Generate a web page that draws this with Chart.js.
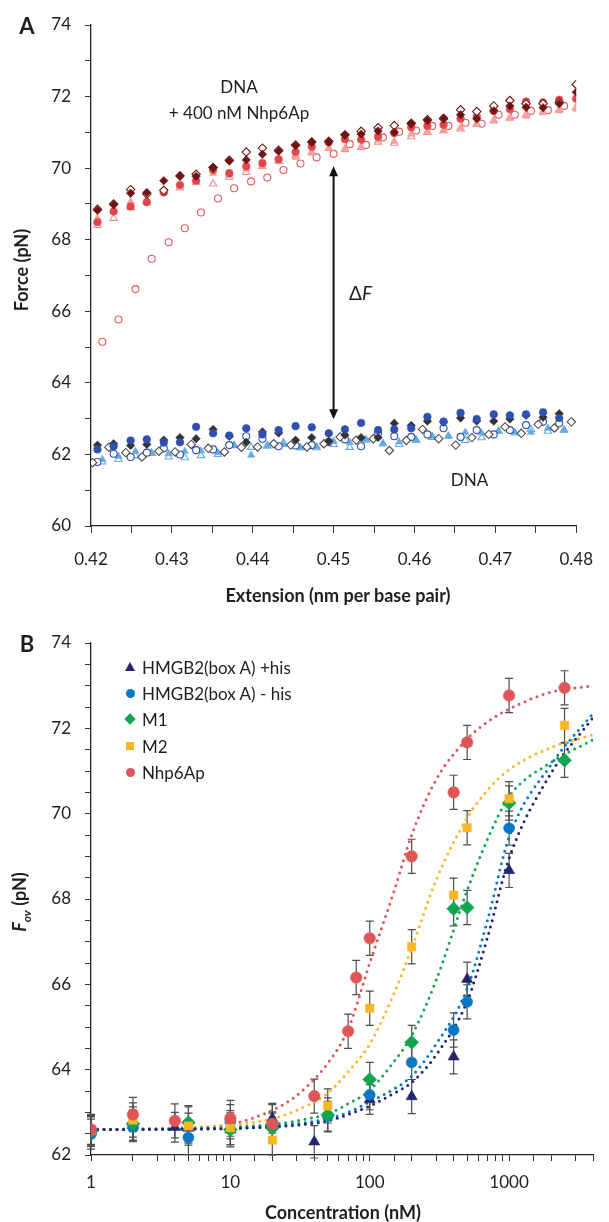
<!DOCTYPE html>
<html>
<head>
<meta charset="utf-8">
<script src="https://cdn.jsdelivr.net/npm/chart.js@4.4.1/dist/chart.umd.min.js"></script>
<style>
  body { margin: 0; background: #fff; }
  #page { position: relative; width: 609px; height: 1222px; font-family: Lato, "Open Sans", sans-serif; color: #1e1e1e; }
  canvas { position: absolute; left: 0; }
  .lbl { position: absolute; transform: translate(-50%, -50%); white-space: nowrap; }
  .panel { font-weight: bold; font-size: 22px; }
  .title { font-weight: bold; font-size: 18px; }
  .ytitle { transform: translate(-50%, -50%) rotate(-90deg); }
  .row { position: absolute; left: 142px; transform: translateY(-50%); white-space: nowrap; font-size: 17px; }
  .mk { position: absolute; }
</style>
</head>
<body>
<div id="page">
  <canvas id="chartA" width="609" height="610" style="top:0"></canvas>
  <canvas id="chartB" width="609" height="612" style="top:610px"></canvas>

  <div class="lbl panel" style="left:27px;top:25px">A</div>
  <div class="lbl panel" style="left:27px;top:643px">B</div>
  <div class="lbl title ytitle" style="left:21px;top:270px">Force (pN)</div>
  <div class="lbl title" style="left:338px;top:595px">Extension (nm per base pair)</div>
  <div class="lbl title ytitle" style="left:21px;top:902px"><i>F<sub style="font-size:12px">ov</sub></i> (pN)</div>
  <div class="lbl title" style="left:343px;top:1212px">Concentration (nM)</div>
  <div id="legend"></div>
</div>

<script>
// ---------------- Panel A: force vs extension ----------------
const extA = [0.4208, 0.4228, 0.4249, 0.4269, 0.4290, 0.4310, 0.4330, 0.4351, 0.4371, 0.4392,
              0.4412, 0.4432, 0.4453, 0.4473, 0.4494, 0.4514, 0.4534, 0.4555, 0.4575, 0.4596,
              0.4616, 0.4636, 0.4657, 0.4677, 0.4698, 0.4718, 0.4738, 0.4759, 0.4779, 0.4800];
const extB = [0.4202, 0.4222, 0.4243, 0.4263, 0.4284, 0.4304, 0.4324, 0.4345, 0.4365, 0.4386,
              0.4406, 0.4426, 0.4447, 0.4467, 0.4488, 0.4508, 0.4528, 0.4549, 0.4569, 0.4590,
              0.4610, 0.4630, 0.4651, 0.4671, 0.4692, 0.4712, 0.4732, 0.4753, 0.4773, 0.4794];
const extC = [0.4214, 0.4234, 0.4255, 0.4275, 0.4296, 0.4316, 0.4336, 0.4357, 0.4377, 0.4398,
              0.4418, 0.4438, 0.4459, 0.4479, 0.4500, 0.4520, 0.4540, 0.4561, 0.4581, 0.4602,
              0.4622, 0.4642, 0.4663, 0.4683, 0.4704, 0.4724, 0.4744, 0.4765, 0.4785, 0.4806];

// DNA + 400 nM Nhp6Ap
const nhpDiamond = [68.82, 68.98, 69.30, 69.32, 69.65, 69.79, 69.77, 70.02, 70.20, 70.23, 70.39, 70.47, 70.63, 70.73, 70.73,
                    70.93, 70.95, 71.04, 71.00, 71.26, 71.33, 71.40, 71.49, 71.38, 71.60, 71.74, 71.70, 71.69, 71.80, 72.12];
const nhpOpenDiamond = [68.85, 69.00, 69.40, 69.28, 69.38, 69.78, 69.83, 70.02, 70.22, 70.45, 70.56, 70.50, 70.65, 70.73, 70.75,
                        70.93, 71.03, 71.13, 71.19, 71.25, 71.35, 71.38, 71.63, 71.58, 71.74, 71.89, 71.80, 71.80, 71.84, 72.34];
const nhpCircle = [68.49, 68.79, 68.93, 69.05, 69.32, 69.53, 69.65, 69.95, 69.86, 70.05, 70.14, 70.25, 70.45, 70.60, 70.72,
                   70.81, 70.80, 70.88, 70.98, 71.14, 71.18, 71.21, 71.38, 71.44, 71.60, 71.65, 71.86, 71.84, 71.91, 71.94];
const nhpTriangle = [68.60, 68.85, 69.07, 69.10, 69.35, 69.50, 69.60, 69.85, 69.80, 69.98, 70.05, 70.18, 70.30, 70.42, 70.55,
                     70.55, 70.60, 70.78, 70.75, 70.95, 71.03, 71.05, 71.13, 71.25, 71.32, 71.42, 71.45, 71.55, 71.60, 71.65];
const nhpOpenTriangle = [68.40, 68.60, 68.90, 69.05, 69.35, 69.45, 69.60, 69.56, 69.75, 69.88, 70.05, 70.20, 70.35, 70.45, 70.55,
                         70.52, 70.58, 70.73, 70.70, 70.88, 71.00, 71.05, 71.10, 71.23, 71.33, 71.40, 71.49, 71.57, 71.63, 71.70];
const nhpOpenCircle = [65.15, 65.77, 66.62, 67.47, 67.93, 68.32, 68.76, 69.15, 69.44, 69.63, 69.74, 69.95, 70.13, 70.30, 70.40,
                       70.67, 70.65, 70.86, 71.02, 71.05, 71.18, 71.18, 71.27, 71.24, 71.49, 71.49, 71.60, 71.62, 71.74, null];

// DNA alone
const dnaCircle = [62.14, 62.23, 62.39, 62.42, 62.33, 62.34, 62.77, 62.59, 62.53, 62.73, 62.56, 62.68, 62.79, 62.76, 62.59,
                   62.70, 62.88, 62.68, 62.70, 62.73, 63.05, 62.92, 63.16, 62.99, 63.12, 63.09, 63.12, 63.18, 63.02, null];
const dnaDiamond = [62.26, 62.30, 62.25, 62.28, 62.40, 62.47, 62.44, 62.70, 62.51, 62.34, 62.63, 62.60, 62.40, 62.47, 62.37,
                    62.54, 62.47, 62.47, 62.87, 62.81, 62.93, 62.90, 63.02, 62.93, 62.93, 62.99, 63.09, 63.04, 63.14, null];
const dnaOpenDiamond = [61.77, 62.20, 62.05, 61.93, 62.09, 62.07, 62.28, 62.17, 62.07, 62.20, 62.21, 62.30, 62.26, 62.21, 62.30,
                        62.49, 62.40, 62.44, 62.11, 62.39, 62.70, 62.44, 62.26, 62.47, 62.56, 62.77, 62.59, 62.84, 62.74, 62.91];
const dnaOpenCircle = [61.79, 62.02, 61.93, 62.05, 62.17, 62.00, 62.12, 62.14, 62.26, 62.51, 62.44, 62.23, 62.25, 62.26, 62.35,
                       62.42, 62.23, 62.59, 62.51, 62.49, 62.56, 62.73, 62.49, 62.68, 62.56, 62.68, 62.82, 62.91, 62.87, null];
const dnaTriangle = [61.86, 61.95, 62.09, 62.05, 62.02, 62.09, 62.10, 62.05, 62.26, 61.98, 62.23, 62.28, 62.19, 62.22, 62.37,
                     62.33, 62.42, 62.30, 62.35, 62.40, 62.51, 62.51, 62.62, 62.60, 62.65, 62.62, 62.62, 62.73, 62.68, null];
const dnaOpenTriangle = [61.79, 61.86, 61.97, 62.03, 61.93, 61.91, 61.97, 62.00, 62.25, 62.20, 62.25, 62.33, 62.19, 62.19, 62.28,
                         62.20, 62.40, 62.30, 62.28, 62.40, 62.48, 62.51, 62.39, 62.47, 62.65, 62.60, 62.70, 62.65, 62.68, null];

// arrow and notes (data coordinates)
const arrowX = 0.45, arrowLow = 62.98, arrowHigh = 70.05;
const notesA = [
  { text: "DNA", x: 0.4383, y: 72.26 },
  { text: "+ 400 nM Nhp6Ap", x: 0.4383, y: 71.53 },
  { text: "DNA", x: 0.4668, y: 61.26 }
];
const deltaF = { x: 0.4535, y: 66.5 };

// ---------------- Panel B: Fov vs concentration ----------------
const legendNames = ["HMGB2(box A) +his", "HMGB2(box A) - his", "M1", "M2", "Nhp6Ap"];

const concHis = [1, 2, 4, 5, 10, 20, 40, 100, 200, 400, 500, 1000];
const fovHis = [62.55, 62.70, 62.65, 62.63, 62.59, 62.86, 62.31, 63.30, 63.37, 64.30, 66.12, 68.67];
const errHis = [0.35, 0.35, 0.35, 0.35, 0.35, 0.35, 0.38, 0.35, 0.4, 0.4, 0.4, 0.4];

const concNoHis = [1, 2, 5, 10, 20, 50, 100, 200, 400, 500, 1000];
const fovNoHis = [62.49, 62.66, 62.41, 62.78, 62.66, 62.91, 63.41, 64.17, 64.93, 65.59, 69.66];
const errNoHis = [0.35, 0.35, 0.4, 0.4, 0.35, 0.35, 0.35, 0.4, 0.4, 0.4, 0.4];

const concM1 = [1, 2, 5, 10, 20, 50, 100, 200, 400, 500, 1000, 2500];
const fovM1 = [62.55, 62.73, 62.76, 62.59, 62.63, 62.94, 63.77, 64.64, 67.77, 67.80, 70.25, 71.25];
const errM1 = [0.35, 0.4, 0.4, 0.4, 0.35, 0.4, 0.4, 0.4, 0.4, 0.4, 0.4, 0.4];

const concM2 = [1, 2, 5, 10, 20, 50, 100, 200, 400, 500, 1000, 2500];
const fovM2 = [62.58, 62.82, 62.68, 62.64, 62.35, 63.15, 65.44, 66.88, 68.09, 69.67, 70.35, 72.07];
const errM2 = [0.35, 0.4, 0.45, 0.4, 0.35, 0.4, 0.4, 0.4, 0.4, 0.4, 0.4, 0.4];

const concNhp = [1, 2, 4, 10, 20, 40, 70, 80, 100, 200, 400, 500, 1000, 2500];
const fovNhp = [62.60, 62.95, 62.80, 62.86, 62.73, 63.38, 64.90, 66.16, 67.08, 69.00, 70.50, 71.67, 72.77, 72.95];
const errNhp = [0.35, 0.4, 0.4, 0.42, 0.45, 0.4, 0.4, 0.4, 0.4, 0.4, 0.4, 0.4, 0.4, 0.4];

// fitted curves
const concFit = [1, 2, 5, 10, 20, 30, 50, 70, 100, 150, 200, 300, 500, 700, 1000, 2000, 4000];
const fitHis = [62.60, 62.60, 62.61, 62.62, 62.66, 62.70, 62.80, 62.95, 63.15, 63.45, 63.70, 64.35, 65.60, 67.10, 68.95, 70.95, 72.25];
const fitNoHis = [62.60, 62.60, 62.61, 62.62, 62.68, 62.73, 62.85, 63.00, 63.25, 63.55, 63.85, 64.60, 65.90, 67.50, 69.45, 71.15, 72.35];
const fitM1 = [62.60, 62.60, 62.62, 62.65, 62.72, 62.80, 62.97, 63.20, 63.52, 64.20, 64.80, 66.10, 68.20, 69.40, 70.40, 71.20, 71.73];
const fitM2 = [62.60, 62.61, 62.65, 62.70, 62.85, 63.05, 63.45, 63.95, 64.60, 65.80, 66.85, 68.45, 69.90, 70.55, 71.03, 71.55, 71.85];
const fitNhp = [62.60, 62.61, 62.64, 62.72, 63.05, 63.40, 64.15, 64.95, 66.50, 68.20, 69.50, 70.80, 71.75, 72.15, 72.45, 72.85, 73.00];

// ======================================
// helpers
// ======================================
Chart.defaults.font.family = "Lato, 'Open Sans', sans-serif";
Chart.defaults.font.size = 17;
Chart.defaults.color = "#1e1e1e";

function pts(xs, ys) {
  return xs.map((x, i) => ({ x: x, y: ys[i] })).filter(p => p.y !== null);
}

function marks(label, xs, ys, shape, color, open, r) {
  return {
    label: label,
    data: pts(xs, ys),
    pointStyle: shape,
    pointRadius: r,
    pointBackgroundColor: open ? "#ffffff" : color,
    pointBorderColor: color,
    pointBorderWidth: open ? 1.1 : 0.6,
    showLine: false
  };
}

const axisLine = { display: true, color: "#222", width: 1.3 };
const tickGrid = { display: true, drawOnChartArea: false, drawTicks: true, tickLength: 6, color: "#333", lineWidth: 1 };

// ======================================
// PANEL A
// ======================================
const annotate = {
  id: "annotate",
  afterDatasetsDraw(chart) {
    const { ctx, scales: { x, y } } = chart;
    const ax = x.getPixelForValue(arrowX);
    const yb = y.getPixelForValue(arrowLow);
    const yt = y.getPixelForValue(arrowHigh);
    ctx.save();
    ctx.strokeStyle = "#111";
    ctx.fillStyle = "#111";
    ctx.lineWidth = 2;
    ctx.beginPath();
    ctx.moveTo(ax, yb - 8);
    ctx.lineTo(ax, yt + 8);
    ctx.stroke();
    ctx.beginPath();
    ctx.moveTo(ax, yb); ctx.lineTo(ax - 4.5, yb - 10); ctx.lineTo(ax + 4.5, yb - 10); ctx.closePath();
    ctx.moveTo(ax, yt); ctx.lineTo(ax - 4.5, yt + 10); ctx.lineTo(ax + 4.5, yt + 10); ctx.closePath();
    ctx.fill();

    ctx.fillStyle = "#1e1e1e";
    ctx.font = "17px Lato, 'Open Sans', sans-serif";
    ctx.textAlign = "center";
    ctx.textBaseline = "middle";
    notesA.forEach(n => ctx.fillText(n.text, x.getPixelForValue(n.x), y.getPixelForValue(n.y)));

    const dx = x.getPixelForValue(deltaF.x), dy = y.getPixelForValue(deltaF.y);
    ctx.font = "19px Lato, 'Open Sans', sans-serif";
    ctx.textAlign = "right";
    ctx.fillText("\u0394", dx, dy);
    ctx.font = "italic 19px Lato, 'Open Sans', sans-serif";
    ctx.textAlign = "left";
    ctx.fillText("F", dx, dy);
    ctx.restore();
  }
};

new Chart(document.getElementById("chartA"), {
  type: "scatter",
  data: {
    datasets: [
      marks("nhp diamond", extA, nhpDiamond, "rectRot", "#6e1414", false, 4.2),
      marks("nhp open diamond", extA, nhpOpenDiamond, "rectRot", "#6e1414", true, 4.2),
      marks("nhp circle", extA, nhpCircle, "circle", "#e0474c", false, 3.8),
      marks("nhp triangle", extA, nhpTriangle, "triangle", "#f3a0a0", false, 4.2),
      marks("nhp open triangle", extA, nhpOpenTriangle, "triangle", "#f08c8c", true, 4.2),
      marks("nhp open circle", extC, nhpOpenCircle, "circle", "#e8585b", true, 3.5),
      marks("dna circle", extA, dnaCircle, "circle", "#2f50ae", false, 3.8),
      marks("dna diamond", extA, dnaDiamond, "rectRot", "#333333", false, 4.2),
      marks("dna open diamond", extB, dnaOpenDiamond, "rectRot", "#4a4a4a", true, 4.2),
      marks("dna open circle", extA, dnaOpenCircle, "circle", "#2f50ae", true, 3.5),
      marks("dna triangle", extC, dnaTriangle, "triangle", "#68a9df", false, 4.2),
      marks("dna open triangle", extC, dnaOpenTriangle, "triangle", "#68a9df", true, 4.2)
    ]
  },
  options: {
    responsive: false,
    animation: false,
    events: [],
    layout: { padding: { left: 0, top: 25, right: 22, bottom: 0 } },
    plugins: { legend: { display: false }, tooltip: { enabled: false } },
    scales: {
      x: {
        type: "linear",
        min: 0.42,
        max: 0.48,
        afterFit(scale) { scale.height = 84; },
        border: axisLine,
        grid: Object.assign({}, tickGrid, { tickLength: 7 }),
        ticks: {
          stepSize: 0.005,
          autoSkip: false,
          maxRotation: 0,
          padding: 16,
          callback: v => (Math.round(v * 1000) % 10 === 0 ? v.toFixed(2) : "")
        }
      },
      y: {
        min: 60,
        max: 74,
        afterFit(scale) { scale.width = 91; },
        border: axisLine,
        grid: tickGrid,
        ticks: {
          stepSize: 1,
          autoSkip: false,
          padding: 14,
          callback: v => (v % 2 === 0 ? v : "")
        }
      }
    }
  },
  plugins: [annotate]
});

// ======================================
// PANEL B
// ======================================
const errorBars = {
  id: "errorBars",
  beforeDatasetsDraw(chart) {
    const { ctx } = chart;
    const yS = chart.scales.y;
    chart.data.datasets.forEach((ds, i) => {
      if (!ds.errors) return;
      const meta = chart.getDatasetMeta(i);
      meta.data.forEach((pt, j) => {
        const v = ds.data[j].y, e = ds.errors[j];
        const top = yS.getPixelForValue(v + e);
        const bot = yS.getPixelForValue(v - e);
        ctx.save();
        ctx.strokeStyle = "#4d4d4d";
        ctx.lineWidth = 1.2;
        ctx.beginPath();
        ctx.moveTo(pt.x, top); ctx.lineTo(pt.x, bot);
        ctx.moveTo(pt.x - 4, top); ctx.lineTo(pt.x + 4, top);
        ctx.moveTo(pt.x - 4, bot); ctx.lineTo(pt.x + 4, bot);
        ctx.stroke();
        ctx.restore();
      });
    });
  }
};

const seriesB = [
  { name: legendNames[0], conc: concHis, fov: fovHis, err: errHis, fit: fitHis, shape: "triangle", r: 6.5, color: "#25256e", order: 5 },
  { name: legendNames[1], conc: concNoHis, fov: fovNoHis, err: errNoHis, fit: fitNoHis, shape: "circle", r: 5.5, color: "#0b78c6", order: 4 },
  { name: legendNames[2], conc: concM1, fov: fovM1, err: errM1, fit: fitM1, shape: "rectRot", r: 7, color: "#12a550", order: 3 },
  { name: legendNames[3], conc: concM2, fov: fovM2, err: errM2, fit: fitM2, shape: "rect", r: 6, color: "#fbb626", order: 2 },
  { name: legendNames[4], conc: concNhp, fov: fovNhp, err: errNhp, fit: fitNhp, shape: "circle", r: 5.8, color: "#e05556", order: 1 }
];

const datasetsB = [];
seriesB.forEach(s => {
  datasetsB.push({
    label: s.name + " fit",
    data: pts(concFit, s.fit),
    showLine: true,
    pointRadius: 0,
    borderColor: s.color,
    borderWidth: 3,
    borderDash: [0, 6.5],
    borderCapStyle: "round",
    cubicInterpolationMode: "monotone",
    fill: false,
    order: 10
  });
  datasetsB.push({
    label: s.name,
    data: pts(s.conc, s.fov),
    errors: s.err,
    showLine: false,
    pointStyle: s.shape,
    pointRadius: s.r,
    pointBackgroundColor: s.color,
    pointBorderColor: s.color,
    pointBorderWidth: 0.5,
    order: s.order
  });
});

new Chart(document.getElementById("chartB"), {
  type: "scatter",
  data: { datasets: datasetsB },
  options: {
    responsive: false,
    animation: false,
    events: [],
    layout: { padding: { left: 0, top: 33, right: 16, bottom: 0 } },
    plugins: { legend: { display: false }, tooltip: { enabled: false } },
    scales: {
      x: {
        type: "logarithmic",
        min: 1,
        max: 4000,
        afterFit(scale) { scale.height = 67; },
        border: axisLine,
        grid: Object.assign({}, tickGrid, { tickLength: 6 }),
        ticks: {
          autoSkip: false,
          maxRotation: 0,
          padding: 11,
          callback: v => ([1, 10, 100, 1000].includes(v) ? String(v) : "")
        }
      },
      y: {
        min: 62,
        max: 74,
        afterFit(scale) { scale.width = 91; },
        border: axisLine,
        grid: tickGrid,
        ticks: {
          stepSize: 0.5,
          autoSkip: false,
          padding: 14,
          callback: v => (v % 2 === 0 ? v : "")
        }
      }
    }
  },
  plugins: [errorBars]
});

// ---------------- legend (HTML) ----------------
const legend = document.getElementById("legend");
const legendRowsY = [667, 693, 719, 746, 772];
seriesB.forEach((s, i) => {
  const cy = legendRowsY[i];
  const mk = document.createElement("div");
  mk.className = "mk";
  if (s.shape === "triangle") {
    mk.style.cssText = `left:125px;top:${cy - 5}px;width:0;height:0;border-left:5px solid transparent;border-right:5px solid transparent;border-bottom:9px solid ${s.color}`;
  } else if (s.shape === "circle") {
    mk.style.cssText = `left:125.5px;top:${cy - 4.5}px;width:9px;height:9px;border-radius:50%;background:${s.color}`;
  } else if (s.shape === "rectRot") {
    mk.style.cssText = `left:126px;top:${cy - 4}px;width:8px;height:8px;transform:rotate(45deg);background:${s.color}`;
  } else {
    mk.style.cssText = `left:126px;top:${cy - 4}px;width:8px;height:8px;background:${s.color}`;
  }
  legend.appendChild(mk);
  const row = document.createElement("div");
  row.className = "row";
  row.style.top = cy + "px";
  row.textContent = s.name;
  legend.appendChild(row);
});
</script>
</body>
</html>
